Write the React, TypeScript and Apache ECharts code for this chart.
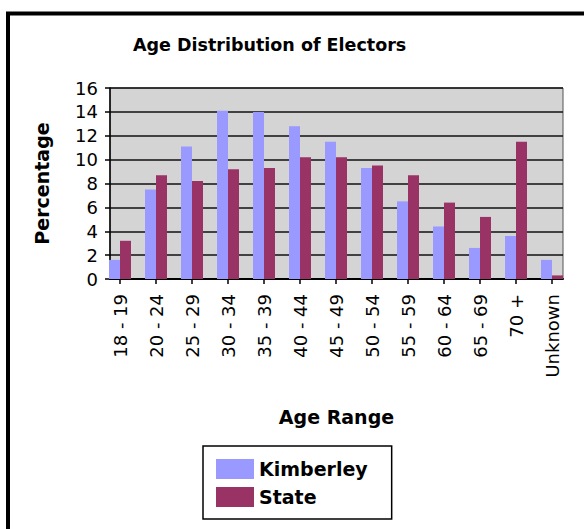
import React, { useEffect, useRef } from "react";
import * as echarts from "echarts";

const categories = ["18 - 19", "20 - 24", "25 - 29", "30 - 34", "35 - 39", "40 - 44", "45 - 49", "50 - 54", "55 - 59", "60 - 64", "65 - 69", "70 +", "Unknown"];
const kimberley = [1.6, 7.5, 11.1, 14.1, 14.0, 12.8, 11.5, 9.3, 6.5, 4.4, 2.6, 3.6, 1.6];
const state = [3.2, 8.7, 8.2, 9.2, 9.3, 10.2, 10.2, 9.5, 8.7, 6.4, 5.2, 11.5, 0.3];
const seriesNames = ["Kimberley", "State"];
const yTicks = { min: 0, max: 16, interval: 2 };

const FONT = "DejaVu Sans";

export default function App() {
  const ref = useRef<HTMLDivElement>(null);
  useEffect(() => {
    if (!ref.current) return;
    const chart = echarts.init(ref.current, null, { renderer: "svg" });
    chart.setOption({
      animation: false,
      backgroundColor: "#ffffff",
      title: {
        text: "Age Distribution of Electors",
        left: 128,
        top: 31,
        textStyle: { fontFamily: FONT, fontWeight: "bold", fontSize: 17.5, color: "#000" },
      },
      graphic: [
        {
          type: "rect",
          shape: { x: 8, y: 13.5, width: 640, height: 600 },
          style: { fill: "none", stroke: "#000", lineWidth: 4 },
          silent: true,
        },
      ],
      legend: {
        orient: "vertical",
        left: 203,
        top: 446,
        padding: [13, 24, 12, 13],
        itemWidth: 38,
        itemHeight: 20,
        itemGap: 8,
        borderColor: "#000",
        borderWidth: 1.5,
        icon: "rect",
        data: seriesNames,
        textStyle: { fontFamily: FONT, fontWeight: "bold", fontSize: 19, color: "#000" },
      },
      grid: [
        {
          left: 110,
          right: 21,
          top: 88,
          bottom: 250,
          show: true,
          backgroundColor: "#d4d4d4",
          borderColor: "#555",
          borderWidth: 1,
        },
        { left: 102, right: 14, top: 88, bottom: 250 },
      ],
      xAxis: [
        {
          type: "category",
          gridIndex: 0,
          data: categories,
          axisLine: { show: true, lineStyle: { color: "#000", width: 2 } },
          axisTick: { show: false },
          axisLabel: { show: false },
          name: "Age Range",
          nameLocation: "middle",
          nameGap: 128,
          nameTextStyle: { fontFamily: FONT, fontWeight: "bold", fontSize: 19, color: "#000" },
        },
        {
          type: "category",
          gridIndex: 1,
          data: categories,
          axisLine: { show: false },
          axisTick: { show: true, alignWithLabel: true, length: 5, lineStyle: { color: "#000", width: 1.5 } },
          axisLabel: { rotate: 90, margin: 15, fontFamily: FONT, fontSize: 18, color: "#000", interval: 0 },
        },
      ],
      yAxis: [
        {
          type: "value",
          gridIndex: 0,
          min: yTicks.min,
          max: yTicks.max,
          interval: yTicks.interval,
          axisLine: { show: true, lineStyle: { color: "#000", width: 1.5 } },
          axisTick: { show: true, length: 5, lineStyle: { color: "#000", width: 1.5 } },
          axisLabel: { margin: 12, fontFamily: FONT, fontSize: 18, color: "#000" },
          splitLine: { show: true, lineStyle: { color: "#111", width: 1.5 } },
          name: "Percentage",
          nameLocation: "middle",
          nameGap: 59,
          nameTextStyle: { fontFamily: FONT, fontWeight: "bold", fontSize: 19, color: "#000" },
        },
        {
          type: "value",
          gridIndex: 1,
          min: yTicks.min,
          max: yTicks.max,
          interval: yTicks.interval,
          show: false,
        },
      ],
      series: [
        {
          name: seriesNames[0],
          type: "bar",
          xAxisIndex: 1,
          yAxisIndex: 1,
          data: kimberley,
          barWidth: 11,
          barGap: "0%",
          itemStyle: { color: "#9999ff" },
        },
        {
          name: seriesNames[1],
          type: "bar",
          xAxisIndex: 1,
          yAxisIndex: 1,
          data: state,
          barWidth: 11,
          barGap: "0%",
          itemStyle: { color: "#993366" },
        },
      ],
    });
    return () => chart.dispose();
  }, []);
  return (
    <div
      ref={ref}
      style={{ position: "fixed", left: 0, top: 0, width: 584, height: 529 }}
    />
  );
}
